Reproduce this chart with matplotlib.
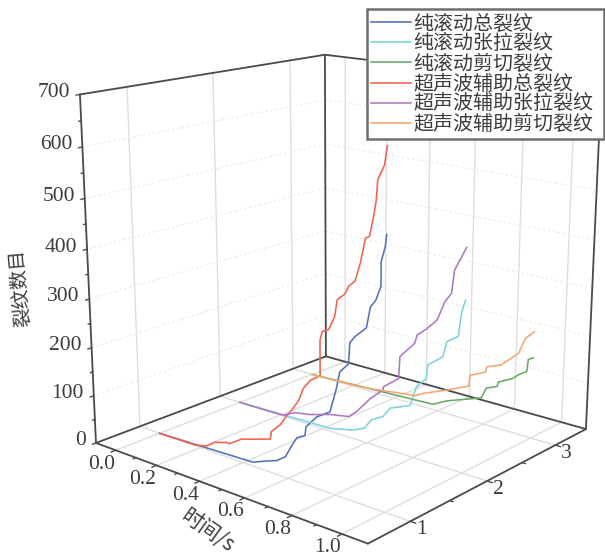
import numpy as np, matplotlib
matplotlib.use('Agg')
import matplotlib.pyplot as plt

CJK = ['Noto Sans CJK SC', 'DejaVu Sans']
LAT = ['Liberation Serif', 'DejaVu Serif']

labels = ['纯滚动总裂纹', '纯滚动张拉裂纹', '纯滚动剪切裂纹',
          '超声波辅助总裂纹', '超声波辅助张拉裂纹', '超声波辅助剪切裂纹']
colors = ['#5470b8', '#7fd2dc', '#68a868', '#f4624e', '#ae78bf', '#f7a672']
y_pos = [1, 2, 3, 1, 2, 3]

blue_x = [0, .445, .505, .55, .59, .615, .64, .675, .68, .725, .78, .805, .82, .855, .86, .88, .925, .94, .96, .98, .98, .995, 1]
blue_z = [0, 8, 20, 28, 42, 66, 88, 98, 116, 142, 160, 206, 242, 262, 302, 316, 338, 378, 392, 420, 464, 492, 514]
cyan_x = [0, .435, .54, .59, .62, .67, .70, .785, .81, .85, .855, .915, .93, .975, .985, 1]
cyan_z = [0, 6, 18, 30, 52, 66, 88, 106, 148, 170, 198, 222, 254, 270, 316, 344]
green_x = [0, .5, .58, .64, .79, .81, .855, .86, .92, .94, .975, .98, 1]
green_z = [0, 10, 12, 28, 56, 80, 90, 100, 116, 126, 138, 164, 170]
red_x = [0, .18, .23, .27, .325, .34, .395, .45, .525, .53, .57, .595, .625, .65, .67, .70, .74, .74, .75, .775, .80, .81, .84, .855, .88, .90, .92, .935, .95, .96, .965, .99, 1]
red_z = [0, 2, 8, 22, 30, 30, 48, 56, 68, 84, 104, 124, 144, 164, 190, 210, 224, 292, 310, 316, 344, 376, 390, 406, 418, 452, 500, 504, 540, 570, 606, 634, 668]
purple_x = [0, .215, .27, .34, .435, .52, .555, .615, .67, .67, .735, .74, .80, .81, .85, .89, .92, .945, .955, 1]
purple_z = [0, 2, 16, 22, 36, 44, 60, 96, 122, 128, 154, 200, 234, 252, 270, 292, 332, 350, 396, 444]
orange_x = [0, .255, .5, .535, .64, .735, .74, .805, .81, .87, .94, .965, 1]
orange_z = [0, 4, 20, 30, 52, 74, 98, 114, 126, 138, 172, 206, 224]

series_x = [blue_x, cyan_x, green_x, red_x, purple_x, orange_x]
series_z = [blue_z, cyan_z, green_z, red_z, purple_z, orange_z]

x_ticks = [0, .2, .4, .6, .8, 1.0]
x_minor = [.1, .3, .5, .7, .9]
y_ticks = [1, 2, 3]
y_minor = [1.5, 2.5]
z_ticks = [0, 100, 200, 300, 400, 500, 600, 700]
z_minor = [50, 150, 250, 350, 450, 550, 650]
XL, YL, ZL = (-.1, 1.1), (.495, 3.488), (0, 700)

W, H = 605, 556
fig = plt.figure(figsize=(W / 100, H / 100), dpi=100)
ax = fig.add_axes([.1, .1, .8, .8], projection='3d')
ax.computed_zorder = False
ax.patch.set_alpha(0)
ax.set_proj_type('persp', focal_length=.482)
ax.view_init(elev=15.748, azim=-49.567)
ax.set_box_aspect((1, np.exp(-.008), np.exp(-.005)))
ax.set_xlim(*XL); ax.set_ylim(*YL); ax.set_zlim(*ZL)

# position the axes so that its 2-D scale matches the fitted camera
S, cx, cy = 3254.14, 343.75, -268.90
W0 = 500.
ax.set_position([0, 0, W0 / W, W0 / H]); ax.apply_aspect()
p0, p1 = ax.transData.transform([[0, 0], [1, 1]])
k = (p1 - p0) / W0
Wa = S / k[0]
left = cx - p0[0] / W0 * Wa
bot = (H + cy) - p0[1] / W0 * Wa
ax.set_position([left / W, bot / H, Wa / W, Wa / H])
ax.apply_aspect()

for a, t in ((ax.xaxis, x_ticks), (ax.yaxis, y_ticks), (ax.zaxis, z_ticks)):
    a.set_ticks(t)
    a.set_ticklabels([])
    a.line.set_color((1, 1, 1, 0))
    a.set_pane_color((1, 1, 1, 1))
    a.pane.set_edgecolor((1, 1, 1, 0))
    a._axinfo['tick']['inward_factor'] = 0
    a._axinfo['tick']['outward_factor'] = 0
    a._axinfo['grid'].update(color='#dedede', linewidth=1.0, linestyle='-')
ax.zaxis._axinfo['grid'].update(color='#ececec', linewidth=.9, linestyle=(0, (2, 2)))
ax.tick_params(axis='both', color=(0, 0, 0, 0))

EC = '#4a4a4a'
x0, x1 = XL; y0, y1 = YL; z0, z1 = ZL
edges = [((x0, x1), (y0, y0), (z0, z0)), ((x0, x0), (y0, y1), (z0, z0)),
         ((x0, x1), (y1, y1), (z0, z0)), ((x1, x1), (y0, y1), (z0, z0)),
         ((x0, x0), (y0, y0), (z0, z1)), ((x0, x0), (y1, y1), (z0, z1)),
         ((x1, x1), (y1, y1), (z0, z1)), ((x0, x0), (y0, y1), (z1, z1)),
         ((x0, x1), (y1, y1), (z1, z1))]
for ex, ey, ez in edges:
    ax.plot(ex, ey, ez, color=EC, lw=1.3, zorder=2, solid_capstyle='round')
for t, f in [(x_ticks, 1), (x_minor, .6)]:
    for v in t:
        ax.plot((v, v), (y0, y0 - .05 * f), (0, 0), color=EC, lw=1, zorder=2)
for t, f in [(y_ticks, 1), (y_minor, .6)]:
    for v in t:
        ax.plot((x1, x1 + .02 * f), (v, v), (0, 0), color=EC, lw=1, zorder=2)
for t, f in [(z_ticks, 1), (z_minor, .6)]:
    for v in t:
        ax.plot((x0, x0), (y0, y0 - .04 * f), (v, v), color=EC, lw=1, zorder=2)

handles = []
for xs, zs, yv, c, lab in zip(series_x, series_z, y_pos, colors, labels):
    h, = ax.plot(xs, [yv] * len(xs), zs, color=c, lw=1.15, label=lab, zorder=5)
    handles.append(h)

M = ax.get_proj()
def to_px(x, y, z):
    v = M @ np.array([x, y, z, 1.])
    return S * v[0] / v[3] + cx, -(S * v[1] / v[3] + cy)

TC = '#3c3c3c'
def label(x, y, z, s, dx, dy, ha='center'):
    u, w = to_px(x, y, z)
    fig.text((u + dx) / W, 1 - (w + dy) / H, s, ha=ha, va='center', family=LAT,
             fontsize=15.5, color=TC)
for v in x_ticks:
    label(v, y0, 0, '%.1f' % v, -14, 14)
for v in y_ticks:
    label(x1, v, 0, '%d' % v, 11, 8)
for v in z_ticks:
    label(x0, y0, v, '%d' % v, -10, -2, ha='right')

fig.text(208 / W, 1 - 531 / H, '时间/s', rotation=-35, rotation_mode='anchor', ha='center', va='center',
         family=CJK, fontsize=15, color=TC)
fig.text(21 / W, 1 - 288 / H, '裂纹数目', rotation=95, rotation_mode='anchor', ha='center', va='center',
         family=CJK, fontsize=14, color=TC)

leg = fig.legend(handles=handles, labels=labels, loc='upper left', mode='expand',
                 bbox_to_anchor=(367 / W, 1 - 9 / H, 237 / W, 0), borderaxespad=0, frameon=True, fancybox=False,
                 framealpha=1, edgecolor='#6e6e6e', prop={'family': CJK, 'size': 14.4},
                 labelspacing=-.04, borderpad=.2, handlelength=2.0, handletextpad=.1,
                 labelcolor=TC)
leg.get_frame().set_linewidth(1.8)
leg.set_zorder(20)
fig.savefig('out.png', dpi=100)
